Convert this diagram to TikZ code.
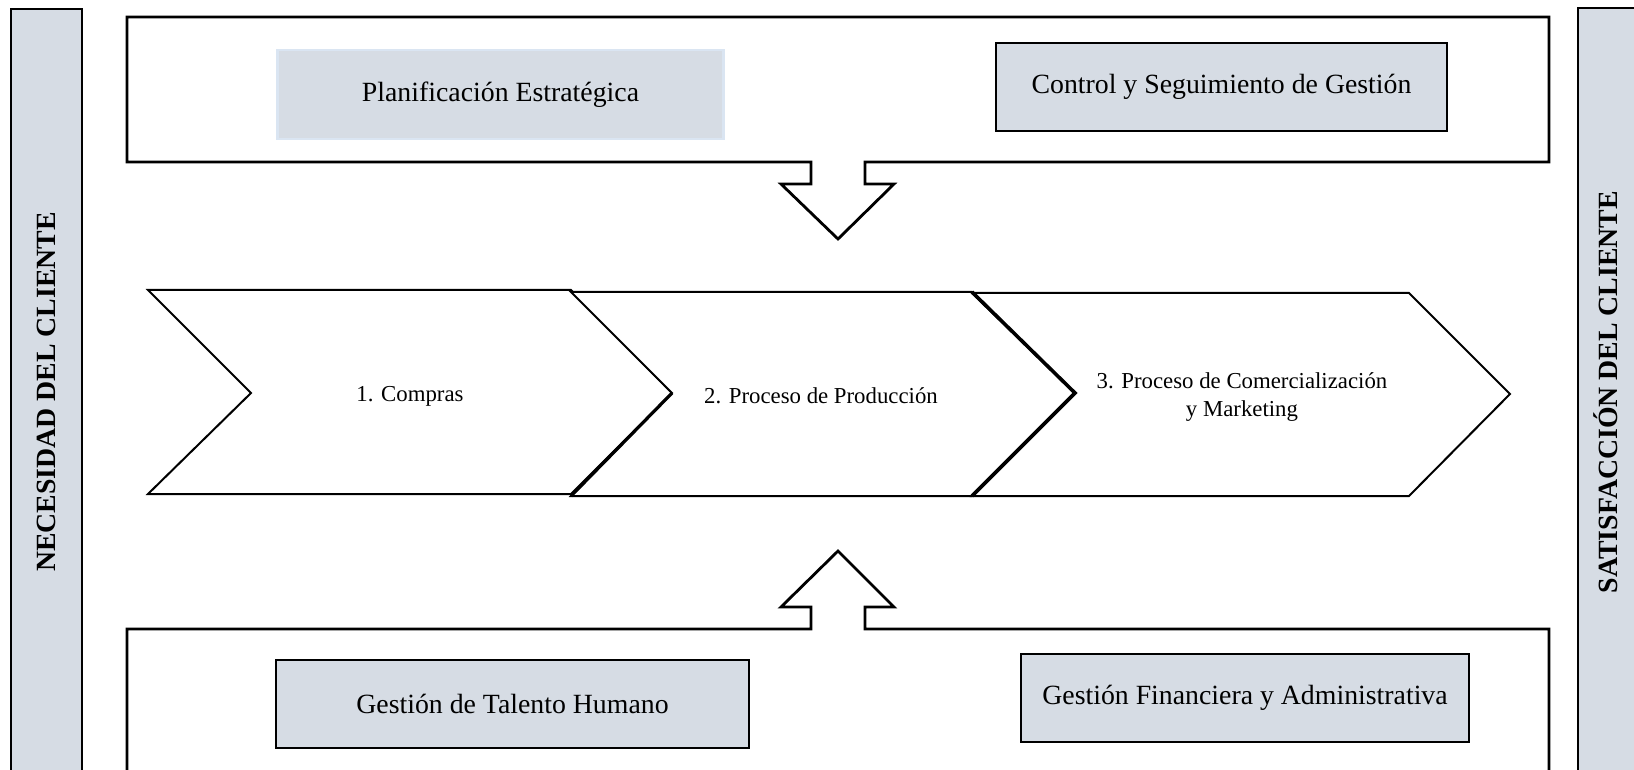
\documentclass[tikz,border=0pt]{standalone}
\usepackage{fontspec}
\setmainfont{Liberation Serif}
\definecolor{boxfill}{HTML}{D6DCE4}
\definecolor{lightedge}{HTML}{DAE5F2}
\tikzset{
  frame/.style={draw=black, line width=1.4pt, fill=white, line join=miter},
  chev/.style={draw=black, line width=1pt, fill=white, line join=miter},
  graybox/.style={draw=black, line width=1.3pt, fill=boxfill, inner sep=0pt,
    font=\fontsize{13.9}{16}\selectfont},
  sidebar/.style={draw=black, line width=1.4pt, fill=boxfill},
  sidetext/.style={rotate=90, font=\fontsize{13.9}{16}\selectfont\bfseries},
  chevtext/.style={font=\fontsize{11.4}{14}\selectfont, align=center},
}
\begin{document}
\begin{tikzpicture}[x=0.5pt,y=-0.5pt]
\useasboundingbox (0,0) rectangle (1634,770);
\clip (0,0) rectangle (1634,770);
\fill[white] (0,0) rectangle (1634,770);

% side bars
\draw[sidebar] (11,9) rectangle (82,800);
\draw[sidebar] (1578,8) rectangle (1660,800);
\node[sidetext] (necesidad) at (46.5,392) {NECESIDAD DEL CLIENTE};
\node[sidetext] (satisfaccion) at (1606,392) {SATISFACCIÓN DEL CLIENTE};

% top container with down arrow
\draw[frame] (127,17) -- (1549,17) -- (1549,162) -- (865,162) -- (865,184)
  -- (894,184) -- (838,239) -- (781,184) -- (811,184) -- (811,162)
  -- (127,162) -- cycle;
% bottom container with up arrow
\draw[frame] (127,800) -- (127,629) -- (811,629) -- (811,607) -- (781,607)
  -- (838,551) -- (894,607) -- (865,607) -- (865,629) -- (1549,629) -- (1549,800);

% boxes
\node[graybox, draw=lightedge, minimum width=223pt, minimum height=44.5pt] (plan) at (500.5,94.5) {Planificación Estratégica};
\node[graybox, minimum width=225.5pt, minimum height=44pt] (control) at (1221.5,87) {\raisebox{-1.5pt}{Control y Seguimiento de Gestión}};
\node[graybox, minimum width=236.5pt, minimum height=44pt] (talento) at (512.5,704) {Gestión de Talento Humano};
\node[graybox, minimum width=224pt, minimum height=44pt] (financiera) at (1245,698) {\raisebox{-1pt}{Gestión Financiera y Administrativa}};

% chevrons
\draw[chev] (148,290) -- (571,290) -- (672,393) -- (571,494) -- (148,494) -- (251,393) -- cycle;
\draw[chev] (571,292) -- (972,292) -- (1075,393) -- (972,496) -- (571,496) -- (672,393) -- cycle;
\draw[chev] (972,293) -- (1409,293) -- (1510,394) -- (1409,496) -- (972,496) -- (1075,393) -- cycle;
\draw[line width=1.6pt] (672,393) -- (571,496);
\draw[line width=1.8pt] (972,292) -- (1075,393) -- (972,496);

\node[chevtext] (compras) at (410,396) {1. Compras};
\node[chevtext] (produccion) at (821,396) {2. Proceso de Producción};
\node[chevtext] (comercial) at (1242,397) {3. Proceso de Comercialización\\y Marketing};
\end{tikzpicture}
\end{document}
